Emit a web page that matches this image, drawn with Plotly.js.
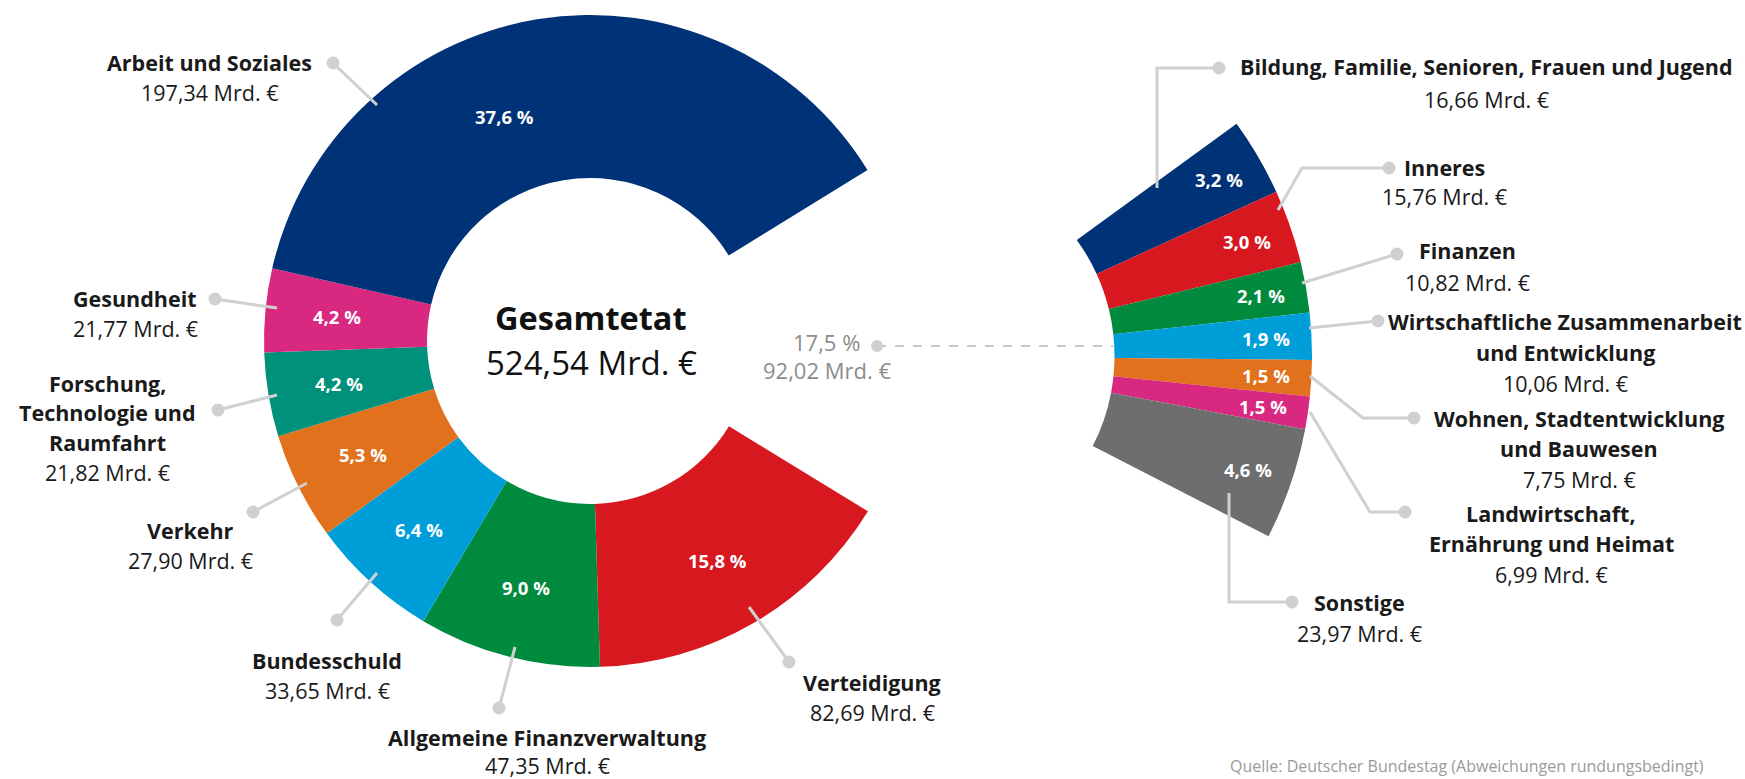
<!DOCTYPE html>
<html><head><meta charset="utf-8">
<script src="https://cdn.plot.ly/plotly-3.0.1.min.js"></script>
<style>
html,body{margin:0;padding:0;overflow:hidden;background:#fff;width:1745px;height:779px;position:relative}
#chart{position:absolute;left:0;top:-50px;width:1745px;height:829px}
</style>
</head><body><div id="chart"></div>
<script>
// ---------------- data ----------------
const mainCategories = ['Verteidigung','Allgemeine Finanzverwaltung','Bundesschuld','Verkehr','Forschung, Technologie und Raumfahrt','Gesundheit','Arbeit und Soziales'];
const mainValues = [82.69, 47.35, 33.65, 27.90, 21.82, 21.77, 197.34];
const mainPctLabels = ['15,8 %','9,0 %','6,4 %','5,3 %','4,2 %','4,2 %','37,6 %'];

const otherCategories = ['Bildung, Familie, Senioren, Frauen und Jugend','Inneres','Finanzen','Wirtschaftliche Zusammenarbeit und Entwicklung','Wohnen, Stadtentwicklung und Bauwesen','Landwirtschaft, Ernährung und Heimat','Sonstige'];
const otherValues = [16.66, 15.76, 10.82, 10.06, 7.75, 6.99, 23.97];
const otherPctLabels = ['3,2 %','3,0 %','2,1 %','1,9 %','1,5 %','1,5 %','4,6 %'];

const otherGroupTotal = 92.02;
const otherGroupPct = '17,5 %';
const grandTotal = 524.54;

// ---------------- styles ----------------
const mainColors = ['#d7191f','#008a3e','#009ed9','#e1711c','#00917a','#d9287f','#003278'];
const otherColors = ['#003278','#d7191f','#008a3e','#009ed9','#e1711c','#d9287f','#6e6e6e'];

const W = 1745, H0 = 779, OFF = 50, HT = H0 + OFF;
const X = px => px / W;
const Y = py => 1 - (py + OFF) / HT;

const MAIN = {cx: 590, cy: 341, R: 326, hole: 0.5, rotation: 121.5, labelR: 0.78};
const RIGHT = {cx: 917, cy: 356, R: 395, hole: 0.5, rotation: 54, labelR: 0.885};
const labelAngleShift = {'Arbeit und Soziales': -11.5};
const labelRadiusPx = {'Arbeit und Soziales': 240};

const FONT = '"Open Sans", "Noto Sans", sans-serif';
const NAME_SIZE = 21.5, VALUE_SIZE = 21.5, PCT_SIZE = 18.5;
const labelLayout = {
  'Arbeit und Soziales': {lines:['Arbeit und Soziales'], x:209, y:63, lh:30, dot:[333,63], path:[[377,105]]},
  'Gesundheit': {lines:['Gesundheit'], x:135, y:298, lh:30, dot:[215,299], path:[[277,308]]},
  'Forschung, Technologie und Raumfahrt': {lines:['Forschung,','Technologie und','Raumfahrt'], x:107, y:383, lh:29.7, dot:[218,410], path:[[277,395]]},
  'Verkehr': {lines:['Verkehr'], x:190, y:530, lh:30, dot:[253,512], path:[[307,483]]},
  'Bundesschuld': {lines:['Bundesschuld'], x:327, y:660, lh:30, dot:[337,620], path:[[377,573]]},
  'Allgemeine Finanzverwaltung': {lines:['Allgemeine Finanzverwaltung'], x:547, y:737, lh:28.5, dot:[499,708], path:[[515,647]]},
  'Verteidigung': {lines:['Verteidigung'], x:872, y:682, lh:30, dot:[789,662], path:[[749,607]]},
  'Bildung, Familie, Senioren, Frauen und Jugend': {lines:['Bildung, Familie, Senioren, Frauen und Jugend'], x:1486, y:67, lh:32, dot:[1219,68], path:[[1157,68],[1157,188]]},
  'Inneres': {lines:['Inneres'], x:1444, y:167, lh:30, dot:[1389,168], path:[[1302,168],[1278,210]]},
  'Finanzen': {lines:['Finanzen'], x:1467, y:250, lh:32, dot:[1397,254], path:[[1302,283]]},
  'Wirtschaftliche Zusammenarbeit und Entwicklung': {lines:['Wirtschaftliche Zusammenarbeit','und Entwicklung'], x:1565, y:322, lh:30.5, dot:[1378,321], path:[[1309,328]]},
  'Wohnen, Stadtentwicklung und Bauwesen': {lines:['Wohnen, Stadtentwicklung','und Bauwesen'], x:1579, y:418, lh:30.5, dot:[1414,418], path:[[1363,418],[1310,376]]},
  'Landwirtschaft, Ernährung und Heimat': {lines:['Landwirtschaft,','Ernährung und Heimat'], x:1551, y:513, lh:30.5, dot:[1405,512], path:[[1370,512],[1310,412]]},
  'Sonstige': {lines:['Sonstige'], x:1359, y:602, lh:31, dot:[1292,602], path:[[1229,602],[1229,493]]}
};

const fmt = v => v.toFixed(2).replace('.', ',') + ' Mrd. €';
const sum = a => a.reduce((s, v) => s + v, 0);

function domainOf(g) {
  return {x:[X(g.cx - g.R), X(g.cx + g.R)], y:[Y(g.cy + g.R), Y(g.cy - g.R)]};
}

const mainVisible = sum(mainValues);
const traces = [
  {type:'pie', values:[...mainValues, otherGroupTotal], labels:[...mainCategories, 'Weitere Ressorts'],
   marker:{colors:[...mainColors, 'rgba(0,0,0,0)'], line:{width:0}}, hole:MAIN.hole, sort:false,
   direction:'clockwise', rotation:MAIN.rotation, textinfo:'none', domain:domainOf(MAIN), showlegend:false, hoverinfo:'label+value'},
  {type:'pie', values:[...otherValues, mainVisible], labels:[...otherCategories, 'Übrige Etats'],
   marker:{colors:[...otherColors, 'rgba(0,0,0,0)'], line:{width:0}}, hole:RIGHT.hole, sort:false,
   direction:'clockwise', rotation:RIGHT.rotation, textinfo:'none', domain:domainOf(RIGHT), showlegend:false, hoverinfo:'label+value'}
];

const annotations = [];
const shapes = [];

function pctAnnotations(geom, cats, vals, texts, total) {
  let a = geom.rotation;
  vals.forEach((v, i) => {
    const span = v / total * 360;
    const mid = a + span / 2 + (labelAngleShift[cats[i]] || 0);
    a += span;
    const r = labelRadiusPx[cats[i]] || geom.R * geom.labelR;
    const t = mid * Math.PI / 180;
    annotations.push({xref:'paper', yref:'paper', x:X(geom.cx + r * Math.sin(t)), y:Y(geom.cy - r * Math.cos(t)),
      text:texts[i], showarrow:false, xanchor:'center', yanchor:'middle',
      font:{family:FONT, size:PCT_SIZE, color:'#ffffff', weight:700}});
  });
}
pctAnnotations(MAIN, mainCategories, mainValues, mainPctLabels, grandTotal);
pctAnnotations(RIGHT, otherCategories, otherValues, otherPctLabels, grandTotal);

function dot(x, y, r, color) {
  shapes.push({type:'circle', xref:'paper', yref:'paper', xsizemode:'pixel', ysizemode:'pixel',
    xanchor:X(x), yanchor:Y(y), x0:-r, x1:r, y0:-r, y1:r, fillcolor:color, line:{width:0}});
}

function categoryLabels(cats, vals) {
  cats.forEach((c, i) => {
    const L = labelLayout[c];
    const lines = L.lines;
    lines.forEach((ln, k) => {
      annotations.push({xref:'paper', yref:'paper', x:X(L.x), y:Y(L.y + k * L.lh), text:ln, showarrow:false,
        xanchor:'center', yanchor:'middle', font:{family:FONT, size:NAME_SIZE, color:'#1a1a1a', weight:700}});
    });
    annotations.push({xref:'paper', yref:'paper', x:X(L.x), y:Y(L.y + lines.length * L.lh), text:fmt(vals[i]), showarrow:false,
      xanchor:'center', yanchor:'middle', font:{family:FONT, size:VALUE_SIZE, color:'#1a1a1a'}});
    const pts = [L.dot, ...L.path];
    const d = pts.map((p, j) => (j ? 'L' : 'M') + X(p[0]) + ',' + Y(p[1])).join(' ');
    shapes.push({type:'path', xref:'paper', yref:'paper', path:d, line:{color:'#d0d0d0', width:3}});
    dot(L.dot[0], L.dot[1], 6.5, '#d0d0d0');
  });
}
categoryLabels(mainCategories, mainValues);
categoryLabels(otherCategories, otherValues);

// center text
annotations.push({xref:'paper', yref:'paper', x:X(591), y:Y(317), text:'Gesamtetat', showarrow:false,
  xanchor:'center', yanchor:'middle', font:{family:FONT, size:32.5, color:'#111111', weight:700}});
annotations.push({xref:'paper', yref:'paper', x:X(591), y:Y(362), text:fmt(grandTotal), showarrow:false,
  xanchor:'center', yanchor:'middle', font:{family:FONT, size:33, color:'#111111'}});

// gap label + dashed connector
annotations.push({xref:'paper', yref:'paper', x:X(826), y:Y(342), text:otherGroupPct, showarrow:false,
  xanchor:'center', yanchor:'middle', font:{family:FONT, size:22, color:'#8c8c8c'}});
annotations.push({xref:'paper', yref:'paper', x:X(827), y:Y(370), text:fmt(otherGroupTotal), showarrow:false,
  xanchor:'center', yanchor:'middle', font:{family:FONT, size:22, color:'#8c8c8c'}});
shapes.push({type:'line', xref:'paper', yref:'paper', x0:X(877), y0:Y(346), x1:X(1113), y1:Y(346),
  line:{color:'#c8c8c8', width:2, dash:'dash'}});
dot(877, 346, 6, '#d0d0d0');

// source
annotations.push({xref:'paper', yref:'paper', x:X(1467), y:Y(753), text:'Quelle: Deutscher Bundestag (Abweichungen rundungsbedingt)', showarrow:false,
  xanchor:'center', yanchor:'top', font:{family:FONT, size:16, color:'#9a9a9a'}});

const layout = {
  width: W, height: HT, margin:{l:0, r:0, t:0, b:0, pad:0},
  paper_bgcolor:'#ffffff', plot_bgcolor:'#ffffff', showlegend:false,
  annotations, shapes
};
Plotly.newPlot('chart', traces, layout, {displayModeBar:false, staticPlot:true});
</script>
</body></html>
